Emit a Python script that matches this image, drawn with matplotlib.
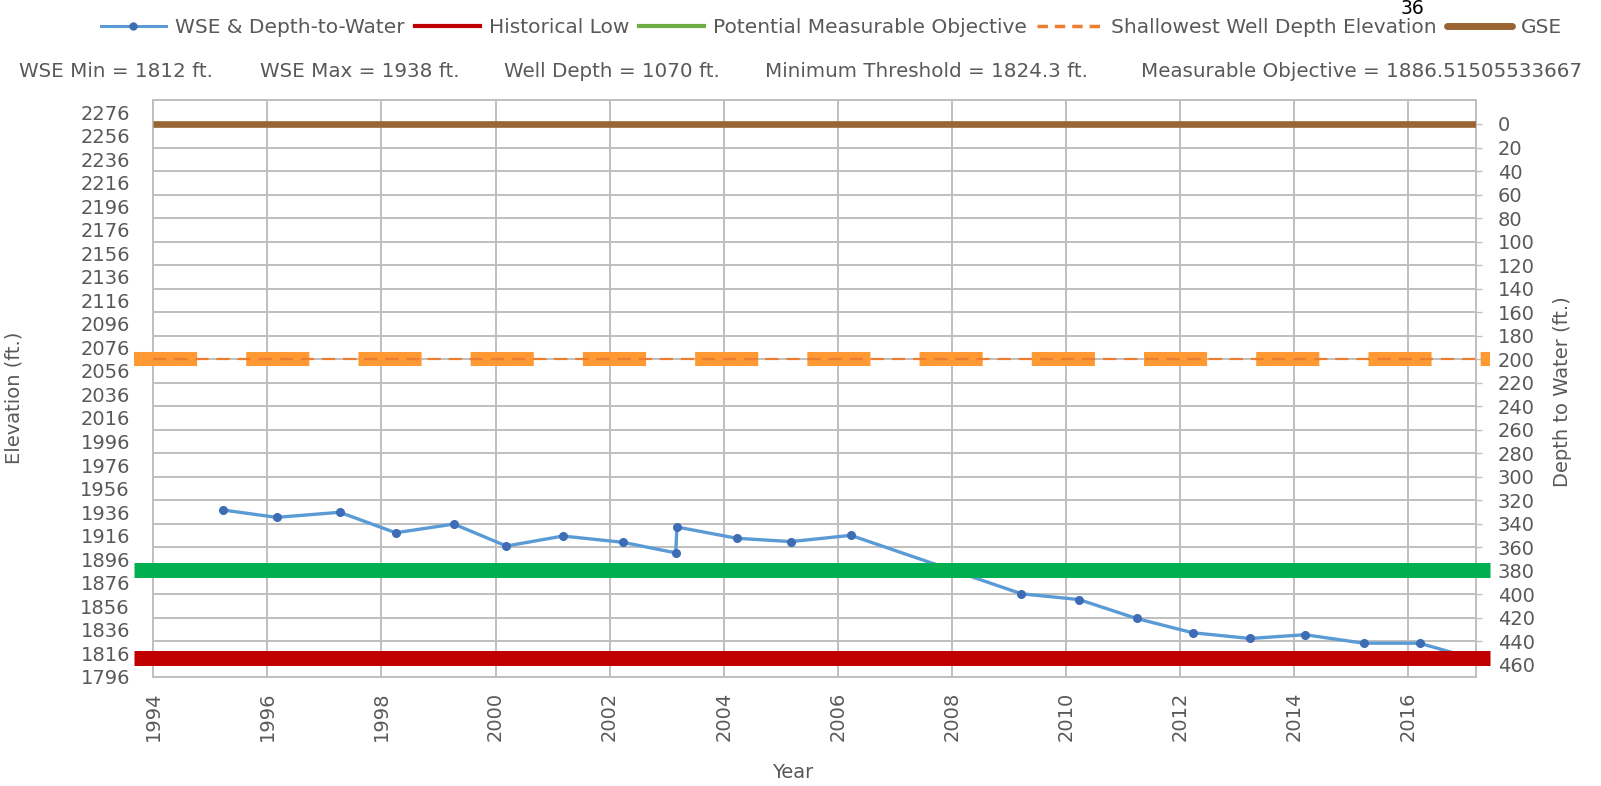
import numpy as np
import matplotlib.pyplot as plt
from matplotlib.lines import Line2D


#______________________________________________________ Data ______________________________________________________

years = [1995.23, 1996.16, 1997.27, 1998.25, 1999.27, 2000.19, 2001.18, 2002.23, 2003.16, 2003.18,
         2004.23, 2005.18, 2006.23, 2009.22, 2010.23, 2011.24, 2012.22, 2013.23, 2014.19, 2015.22,
         2016.20, 2017.10]
wse = [1937.7, 1931.5, 1935.8, 1918.4, 1925.8, 1907.1, 1915.6, 1910.3, 1901.3, 1923.3,
       1913.7, 1910.9, 1916.2, 1866.5, 1861.6, 1845.5, 1833.4, 1828.5, 1831.7, 1824.5,
       1824.5, 1812.0]

gse = 2266.0                  # ground surface elevation
historical_low = 1812.0
measurable_objective = 1886.5
shallow_depth = 200.0         # depth to shallowest well depth

stats = ["WSE Min = 1812 ft.", "WSE Max = 1938 ft.", "Well Depth = 1070 ft.",
         "Minimum Threshold = 1824.3 ft.", "Measurable Objective = 1886.51505533667"]
legend_labels = ["WSE & Depth-to-Water", "Historical Low", "Potential Measurable Objective",
                 "Shallowest Well Depth Elevation", "GSE"]

elev_ticks = np.arange(1796, 2277, 20)
depth_ticks = np.arange(0, 461, 20)
year_ticks = np.arange(1994, 2017, 2)


#______________________________________________________ Layout ______________________________________________________

W, H = 1601, 786
px_left, px_right, px_top, px_bottom = 153.3, 1476.0, 100.0, 676.7
txt = '#595959'
grid_c = '#BFBFBF'

fig = plt.figure(figsize=(W / 100, H / 100), dpi=100)
ax = fig.add_axes([px_left / W, 1 - px_bottom / H, (px_right - px_left) / W, (px_bottom - px_top) / H])
ax2 = ax.twinx()
ax.set_zorder(ax2.get_zorder() + 1)
ax.patch.set_visible(False)

ax.set_xlim(1994, 2017.19)
ax.set_ylim(1796, 2286.4)
ax2.set_ylim(gse - 1796, gse - 2286.4)

ax.set_xticks(year_ticks)
ax.set_yticks(elev_ticks)
ax2.set_yticks(depth_ticks)

ax.xaxis.grid(True, color=grid_c, lw=1.4)
ax2.yaxis.grid(True, color=grid_c, lw=1.4)
ax.set_axisbelow(True)

for a in (ax, ax2):
    for s in a.spines.values():
        s.set_color(grid_c)
        s.set_linewidth(1.2)

ax.tick_params(axis='y', length=0, pad=16.8, labelsize=14, labelcolor=txt)
ax.tick_params(axis='x', length=0, pad=11, labelsize=14, labelcolor=txt, labelrotation=90)
ax2.tick_params(axis='y', length=4.3, width=1, color=grid_c, pad=11.5, labelsize=14, labelcolor=txt)


#______________________________________________________ Series ______________________________________________________

ext_l = (134 - px_left) / (px_right - px_left)
ext_r = (1490 - px_left) / (px_right - px_left)

ax.axhline(gse, color='#996633', lw=4.8, solid_capstyle='butt', zorder=3)
ax.axhline(gse - shallow_depth, xmin=ext_l, xmax=ext_r, color='#FF9933', lw=10.1,
           dashes=(4.5, 3.5), dash_capstyle='butt', clip_on=False, zorder=3)
ax.axhline(gse - shallow_depth, color='#ED7D31', lw=1.6, dashes=(6, 3.5), zorder=3)

ax.plot(years, wse, color='#5B9BD5', lw=2.4, marker='o', ms=5.5,
        mfc='#3E6DB5', mec='#3E6DB5', zorder=4)

ax.axhline(measurable_objective, xmin=ext_l, xmax=ext_r, color='#00B050', lw=10.8,
           solid_capstyle='butt', clip_on=False, zorder=5)
ax.axhline(historical_low, xmin=ext_l, xmax=ext_r, color='#C00000', lw=10.8,
           solid_capstyle='butt', clip_on=False, zorder=5)


#______________________________________________________ Texts ______________________________________________________

handles = [
    Line2D([], [], color='#5B9BD5', lw=2.2, marker='o', ms=5, mfc='#3E6DB5', mec='#3E6DB5'),
    Line2D([], [], color='#C00000', lw=3),
    Line2D([], [], color='#70AD47', lw=3),
    Line2D([], [], color='#ED7D31', lw=2.5, dashes=(3, 2)),
    Line2D([], [], color='#996633', lw=5, solid_capstyle='round'),
]
fig.legend(handles, legend_labels, loc='center', bbox_to_anchor=(831.5 / W, 1 - 27.6 / H),
           ncol=5, frameon=False, fontsize=14.5, handlelength=3.23, handletextpad=0.45,
           columnspacing=0.5, borderpad=0, labelcolor=txt)

stat_x = [19, 260, 504, 765, 1141]
for x, s in zip(stat_x, stats):
    fig.text(x / W, 1 - 71.5 / H, s, ha='left', va='center', fontsize=14.3, color=txt)

fig.text(1412 / W, 1 - 8.5 / H, '36', ha='center', va='center', fontsize=13.5, color='black')

fig.text(14.5 / W, 1 - 398 / H, 'Elevation (ft.)', rotation=90, ha='center', va='center',
         fontsize=14, color=txt)
fig.text(1562 / W, 1 - 392 / H, 'Depth to Water (ft.)', rotation=90, ha='center', va='center',
         fontsize=14, color=txt)
fig.text(793 / W, 1 - 773 / H, 'Year', ha='center', va='center', fontsize=14, color=txt)

fig.savefig('out.png', dpi=100)
